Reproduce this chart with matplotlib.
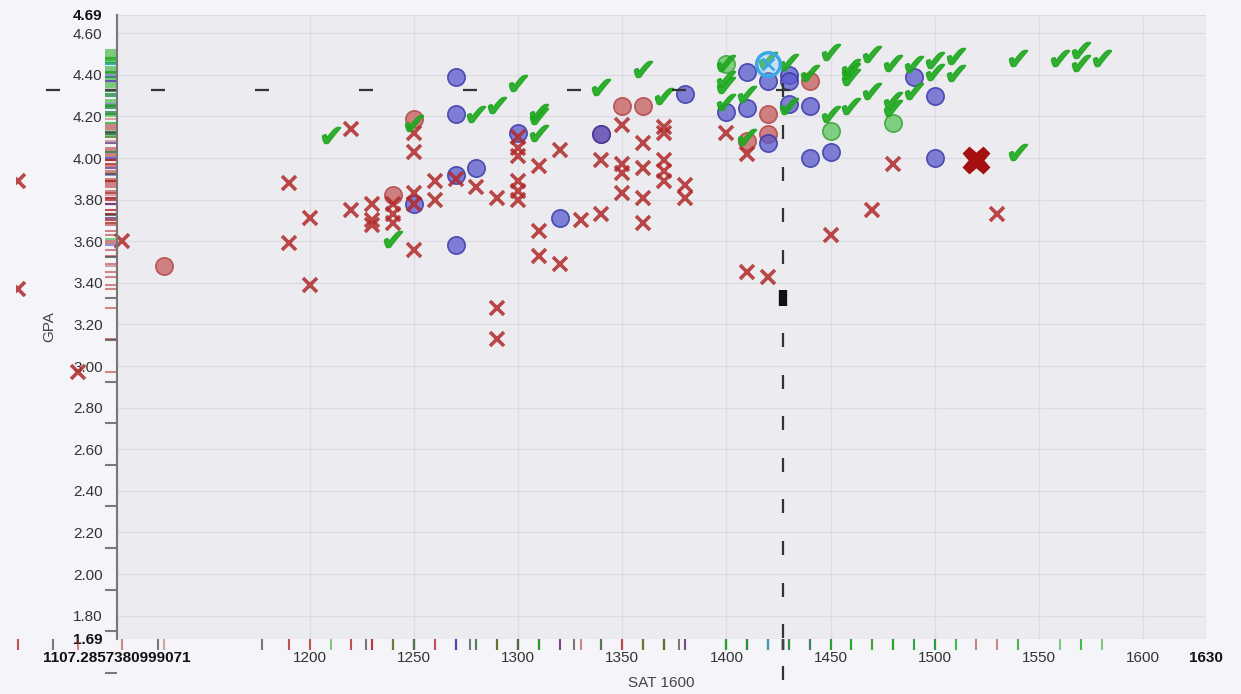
import matplotlib
matplotlib.use("Agg")
import matplotlib.pyplot as plt
from matplotlib.transforms import Bbox, TransformedBbox

plt.rcParams['font.family'] = ['Liberation Sans', 'DejaVu Sans']
plt.rcParams['mathtext.fontset'] = 'dejavusans'

# ---- data (SAT, GPA) ----
red_x_sat = [1060, 1060, 1089, 1110, 1190, 1190, 1200, 1200, 1220, 1220,
             1230, 1230, 1230, 1240, 1240, 1240, 1250, 1250, 1250, 1250, 1250,
             1260, 1260, 1270, 1280, 1290, 1290, 1290,
             1300, 1300, 1300, 1300, 1300, 1300, 1310, 1310, 1310, 1320, 1320,
             1330, 1340, 1340, 1350, 1350, 1350, 1350, 1360, 1360, 1360, 1360,
             1370, 1370, 1370, 1370, 1370, 1380, 1380, 1400, 1410, 1410,
             1420, 1450, 1470, 1480, 1530]
red_x_gpa = [3.89, 3.37, 2.97, 3.60, 3.88, 3.59, 3.71, 3.39, 4.14, 3.75,
             3.78, 3.70, 3.68, 3.78, 3.73, 3.69, 4.12, 4.03, 3.83, 3.78, 3.56,
             3.89, 3.80, 3.90, 3.86, 3.81, 3.28, 3.13,
             4.10, 4.05, 4.01, 3.89, 3.84, 3.80, 3.96, 3.65, 3.53, 4.04, 3.49,
             3.70, 3.99, 3.73, 4.16, 3.97, 3.93, 3.83, 4.07, 3.95, 3.81, 3.69,
             4.15, 4.12, 3.99, 3.94, 3.89, 3.87, 3.81, 4.12, 4.02, 3.45,
             3.43, 3.63, 3.75, 3.97, 3.73]

red_o_sat = [1130, 1240, 1250, 1340, 1350, 1360, 1410, 1420, 1420, 1440]
red_o_gpa = [3.48, 3.82, 4.19, 4.115, 4.25, 4.25, 4.08, 4.21, 4.115, 4.37]

blue_o_sat = [1250, 1270, 1270, 1270, 1270, 1280, 1300, 1320, 1340, 1380,
              1400, 1410, 1410, 1420, 1420, 1430, 1430, 1430, 1440, 1440,
              1450, 1490, 1500, 1500]
blue_o_gpa = [3.78, 4.39, 4.21, 3.92, 3.58, 3.95, 4.12, 3.71, 4.115, 4.31,
              4.22, 4.415, 4.24, 4.37, 4.07, 4.40, 4.37, 4.26, 4.25, 4.00,
              4.03, 4.39, 4.30, 4.00]

green_o_sat = [1400, 1450, 1480]
green_o_gpa = [4.45, 4.13, 4.17]

check_sat = [1210, 1240, 1250, 1280, 1290, 1300, 1310, 1310, 1310, 1340,
             1360, 1370, 1400, 1400, 1400, 1400, 1410, 1410, 1420, 1430,
             1430, 1440, 1450, 1450, 1460, 1460, 1460, 1460, 1470, 1470,
             1480, 1480, 1480, 1490, 1490, 1500, 1500, 1510, 1510, 1540,
             1540, 1560, 1570, 1570, 1580]
check_gpa = [4.11, 3.61, 4.17, 4.21, 4.255, 4.36, 4.22, 4.20, 4.12, 4.34,
             4.43, 4.30, 4.455, 4.38, 4.35, 4.27, 4.31, 4.10, 4.47, 4.46,
             4.25, 4.41, 4.51, 4.21, 4.44, 4.42, 4.39, 4.25, 4.50, 4.32,
             4.455, 4.28, 4.24, 4.45, 4.32, 4.47, 4.415, 4.49, 4.41, 4.48,
             4.03, 4.48, 4.52, 4.455, 4.48]

you_sat = [1420]
you_gpa = [4.45]
big_x_sat = [1520]
big_x_gpa = [3.99]

# crosshair dashes
cross_sat = 1427
cross_gpa = 4.325
hdash_sat = [1427, 1377, 1327, 1277, 1227, 1177, 1127, 1077]
vdash_gpa = [4.325, 4.125, 3.925, 3.725, 3.525, 3.325, 3.125, 2.925,
             2.725, 2.525, 2.325, 2.125, 1.925, 1.725, 1.525]

yticks = [4.69, 4.60, 4.40, 4.20, 4.00, 3.80, 3.60, 3.40, 3.20, 3.00,
          2.80, 2.60, 2.40, 2.20, 2.00, 1.80, 1.69]
xticks = [1107.2857380999071, 1200, 1250, 1300, 1350, 1400, 1450, 1500,
          1550, 1600, 1630]

RED = '#b02a2a'
GREEN = '#1fa81f'
BLUE = '#4444bb'

fig = plt.figure(figsize=(12.41, 6.94), dpi=100, facecolor='#f5f5f9')
ax = fig.add_axes([116.5 / 1241, 1 - 638.5 / 694, 1089.2 / 1241, 624 / 694])
ax.set_facecolor('#ececf0')
ax.set_xlim(1107.2857380999071, 1630)
ax.set_ylim(1.69, 4.69)
# marks may spill outside the plot, but the page cuts them a bit from the left
page_clip = TransformedBbox(Bbox([[16 / 1241, 0], [1, 1]]), fig.transFigure)

# circles
ax.plot(red_o_sat, red_o_gpa, 'o', ms=12.5, mfc=(0.77, 0.36, 0.36, 0.75),
        mec=(0.7, 0.25, 0.25, 0.8), mew=1.2, ls='none', clip_on=False)
ax.plot(blue_o_sat, blue_o_gpa, 'o', ms=12.5, mfc=(0.35, 0.35, 0.8, 0.75),
        mec=(0.2, 0.2, 0.65, 0.8), mew=1.2, ls='none', clip_on=False)
ax.plot(green_o_sat, green_o_gpa, 'o', ms=12.5, mfc=(0.36, 0.77, 0.36, 0.75),
        mec=(0.2, 0.62, 0.2, 0.8), mew=1.2, ls='none', clip_on=False)
# red crosses
xs, = ax.plot(red_x_sat, red_x_gpa, 'x', ms=10, mew=2.6, color=RED, alpha=0.85,
              ls='none')
xs.set_clip_box(page_clip)
# green checks
ax.plot(check_sat, check_gpa, marker='$\u2714$', ms=13, color=GREEN,
        alpha=0.9, ls='none', clip_on=False)
# highlighted point
ax.plot(you_sat, you_gpa, 'o', ms=17, mfc=(0.55, 0.8, 0.95, 0.35),
        mec='#3aa8e8', mew=2.5, ls='none', clip_on=False)
ax.plot(you_sat, you_gpa, 'x', ms=9, mew=2, color='#3aa8e8', ls='none',
        clip_on=False)
ax.plot(big_x_sat, big_x_gpa, 'X', ms=19, color='#a50f0f', mec='#a50f0f',
        ls='none', clip_on=False)

# crosshair
ax.plot(hdash_sat, [cross_gpa] * len(hdash_sat), '_', ms=10, mew=1.6,
        color='#333333', ls='none', clip_on=False)
ax.plot([cross_sat] * len(vdash_gpa), vdash_gpa, '|', ms=10, mew=1.6,
        color='#333333', ls='none', clip_on=False)
ax.plot([cross_sat], [vdash_gpa[5]], '|', ms=11, mew=6, color='#111111',
        ls='none', clip_on=False)

# rugs
ytr = ax.get_yaxis_transform()
xtr = ax.get_xaxis_transform()
groups = [(red_x_sat, red_x_gpa, RED, 0.55),
          (red_o_sat, red_o_gpa, '#c06060', 0.55),
          (blue_o_sat, blue_o_gpa, BLUE, 0.55),
          (green_o_sat, green_o_gpa, '#44bb44', 0.55),
          (check_sat, check_gpa, GREEN, 0.55),
          (you_sat, you_gpa, '#3aa8e8', 0.7),
          (big_x_sat, big_x_gpa, '#a50f0f', 0.5),
          (hdash_sat, [cross_gpa] * len(hdash_sat), '#444444', 0.7),
          ([cross_sat] * len(vdash_gpa), vdash_gpa, '#444444', 0.7)]
for sx, gy, c, a in groups:
    ax.hlines(gy, -0.011, 0, transform=ytr, colors=c, alpha=a, lw=1.5,
              clip_on=False)
    ax.vlines(sx, -0.019, 0, transform=xtr, colors=c, alpha=a, lw=1.5,
              clip_on=False)

# axes styling
ax.set_yticks(yticks)
ax.set_yticklabels(['%.2f' % v for v in yticks], fontsize=11, color='#333333')
ax.set_xticks(xticks)
ax.set_xticklabels(['1107.2857380999071'] + [str(v) for v in xticks[1:-1]] + ['1630'],
                   fontsize=11, color='#333333')
for lab in (ax.get_yticklabels()[0], ax.get_yticklabels()[-1],
            ax.get_xticklabels()[0], ax.get_xticklabels()[-1]):
    lab.set_fontweight('bold')
    lab.set_color('#111111')
ax.tick_params(axis='y', length=0, pad=10)
ax.tick_params(axis='x', length=0, pad=9)
ax.grid(True, color='#dcdce2', lw=1)
ax.set_axisbelow(True)
for s in ['top', 'right', 'bottom']:
    ax.spines[s].set_visible(False)
ax.spines['left'].set_color('#777777')
ax.spines['left'].set_linewidth(1.5)

ax.set_xlabel('SAT 1600', fontsize=11, color='#444444', labelpad=8)
ax.set_ylabel('GPA', fontsize=11, color='#444444', labelpad=12)

fig.savefig('out.png', dpi=100, facecolor=fig.get_facecolor())
